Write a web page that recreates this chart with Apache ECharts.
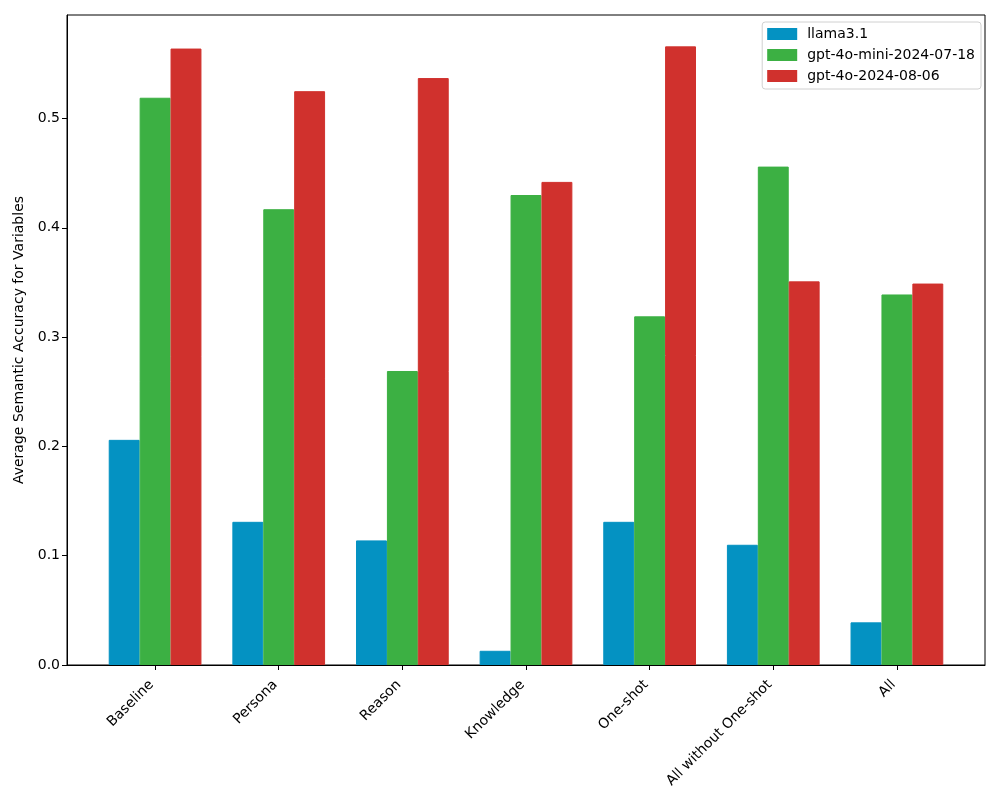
<!DOCTYPE html>
<html>
<head>
<meta charset="utf-8">
<script src="https://cdn.jsdelivr.net/npm/echarts@6/dist/echarts.min.js"></script>
<style>html,body{margin:0;padding:0;background:#fff}#c{width:1000px;height:800px}</style>
</head>
<body>
<div id="c"></div>
<script>
const categories = ["Baseline", "Persona", "Reason", "Knowledge", "One-shot", "All without One-shot", "All"];
const seriesNames = ["llama3.1", "gpt-4o-mini-2024-07-18", "gpt-4o-2024-08-06"];
const llama = [0.206, 0.131, 0.114, 0.013, 0.131, 0.110, 0.039];
const gpt4oMini = [0.519, 0.417, 0.269, 0.430, 0.319, 0.456, 0.339];
const gpt4o = [0.564, 0.525, 0.537, 0.442, 0.566, 0.351, 0.349];
const yTicks = [0, 0.1, 0.2, 0.3, 0.4, 0.5];
const colors = ["#0492c2", "#3cb043", "#d0312d"];

const values = [llama, gpt4oMini, gpt4o];
const idx = categories.map((_, i) => i);
const font = "DejaVu Sans";
const chart = echarts.init(document.getElementById('c'));
chart.setOption({
  animation: false,
  textStyle: { fontFamily: font },
  grid: { left: 67, right: 15, top: 15, bottom: 135, show: true, borderColor: '#000', borderWidth: 1, backgroundColor: 'transparent' },
  legend: {
    orient: 'vertical', right: 19, top: 22,
    itemWidth: 28, itemHeight: 10, itemGap: 7,
    padding: [5, 6, 6, 5],
    borderColor: '#d0d0d0', borderWidth: 1, borderRadius: 3,
    backgroundColor: 'rgba(255,255,255,0.8)',
    textStyle: { fontFamily: font, fontSize: 14, color: '#000', padding: [0, 0, 0, 6] },
    icon: 'rect',
    data: seriesNames
  },
  xAxis: {
    type: 'value', min: -0.7125, max: 6.7125,
    axisLine: { show: true, onZero: false, lineStyle: { color: '#000', width: 1 } },
    axisTick: { show: true, length: 5, lineStyle: { color: '#000' }, customValues: idx },
    axisLabel: {
      customValues: idx, rotate: 45, fontSize: 14, color: '#000', fontFamily: font, margin: 14,
      padding: [0, 5, 0, 0],
      formatter: v => categories[Math.round(v)]
    },
    splitLine: { show: false }
  },
  yAxis: {
    type: 'value', min: 0, max: 0.5947, interval: 0.1,
    name: 'Average Semantic Accuracy for Variables', nameLocation: 'middle', nameGap: 39,
    nameTextStyle: { fontFamily: font, fontSize: 14, color: '#000' },
    axisLine: { show: true, onZero: false, lineStyle: { color: '#000', width: 1 } },
    axisTick: { show: true, length: 5, lineStyle: { color: '#000' }, customValues: yTicks },
    axisLabel: { customValues: yTicks, fontSize: 14, color: '#000', fontFamily: font, margin: 7, formatter: v => v.toFixed(1) },
    splitLine: { show: false }
  },
  series: seriesNames.map((name, s) => ({
    name, type: 'bar',
    data: values[s].map((v, i) => [i, v]),
    itemStyle: { color: colors[s], borderColor: colors[s], borderWidth: 1 },
    barGap: '0%', barCategoryGap: '25%'
  }))
});
</script>
</body>
</html>
